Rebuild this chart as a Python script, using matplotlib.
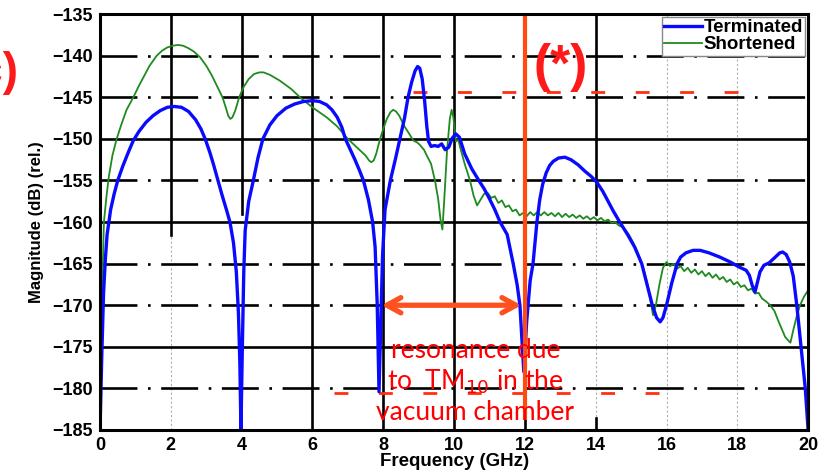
import matplotlib
matplotlib.use("Agg")
import matplotlib.pyplot as plt

plt.rcParams['font.family'] = ['Liberation Sans', 'DejaVu Sans']

# Measured transfer magnitude, terminated line: (frequency GHz, dB)
terminated = [
    (0.00, -185.0), (0.05, -176.0), (0.10, -168.5), (0.15, -164.5), (0.20, -161.5),
    (0.30, -158.5), (0.40, -156.6), (0.50, -155.0), (0.65, -153.2), (0.80, -151.6),
    (0.94, -150.2), (1.10, -149.1), (1.30, -148.0), (1.50, -147.2), (1.70, -146.6),
    (1.90, -146.2), (2.10, -146.1), (2.30, -146.2), (2.50, -146.7), (2.70, -147.7),
    (2.85, -148.8), (2.97, -150.0), (3.10, -151.6), (3.20, -153.0), (3.33, -155.0),
    (3.45, -156.8), (3.57, -158.5), (3.67, -160.0), (3.77, -162.5), (3.85, -166.0),
    (3.91, -171.0), (3.95, -177.0), (3.98, -185.0), (4.02, -175.0), (4.06, -166.0),
    (4.10, -161.0), (4.20, -157.5), (4.33, -155.0), (4.46, -152.3), (4.60, -150.0),
    (4.80, -148.3), (5.00, -147.2), (5.25, -146.3), (5.50, -145.8), (5.75, -145.5),
    (6.00, -145.4), (6.20, -145.5), (6.40, -145.9), (6.55, -146.5), (6.70, -147.4),
    (6.83, -148.6), (6.93, -150.0), (7.07, -151.3), (7.20, -152.5), (7.32, -153.7),
    (7.44, -155.0), (7.58, -157.3), (7.70, -160.0), (7.77, -163.0), (7.83, -170.0),
    (7.88, -180.4), (7.93, -172.0), (7.98, -164.0), (8.05, -158.5), (8.20, -155.0),
    (8.35, -152.3), (8.47, -150.0), (8.60, -147.5), (8.70, -145.0), (8.80, -143.2),
    (8.90, -141.8), (8.97, -141.3), (9.03, -141.5), (9.10, -142.8), (9.17, -145.5),
    (9.23, -148.5), (9.28, -150.3), (9.35, -150.9), (9.45, -150.8), (9.55, -150.9),
    (9.65, -150.6), (9.75, -151.3), (9.85, -151.0), (9.95, -149.9), (10.05, -149.4),
    (10.15, -149.8), (10.30, -151.8), (10.50, -153.6), (10.70, -155.0), (10.85, -156.0),
    (11.00, -157.2), (11.15, -158.5), (11.30, -160.0), (11.50, -161.5), (11.67, -165.0),
    (11.78, -167.5), (11.86, -170.0), (11.97, -178.0), (12.05, -172.0), (12.15, -167.0),
    (12.23, -165.0), (12.34, -160.0), (12.42, -157.3), (12.50, -155.5), (12.60, -154.1),
    (12.70, -153.2), (12.80, -152.7), (12.95, -152.3), (13.13, -152.2), (13.30, -152.5),
    (13.50, -153.1), (13.70, -153.9), (13.87, -154.5), (14.03, -155.2), (14.20, -156.3),
    (14.35, -157.5), (14.50, -158.7), (14.68, -160.0), (14.90, -161.5), (15.10, -163.0),
    (15.30, -165.0), (15.45, -167.5), (15.60, -170.0), (15.72, -171.5), (15.82, -172.0),
    (15.90, -171.5), (16.00, -170.0), (16.15, -167.3), (16.30, -165.0), (16.40, -164.2),
    (16.55, -163.7), (16.75, -163.4), (16.95, -163.4), (17.20, -163.7), (17.50, -164.2),
    (17.80, -164.8), (18.05, -165.4), (18.25, -165.8), (18.34, -166.4), (18.42, -167.6),
    (18.50, -168.4), (18.57, -167.2), (18.64, -166.0), (18.75, -165.2), (18.90, -164.9),
    (19.05, -164.3), (19.20, -163.7), (19.28, -163.6), (19.38, -163.9), (19.48, -164.8),
    (19.58, -166.5), (19.68, -170.0), (19.80, -175.0), (19.92, -180.0), (20.00, -185.0),
]

# Measured transfer magnitude, shortened line: (frequency GHz, dB)
shortened = [
    (0.00, -185.0), (0.05, -170.0), (0.11, -160.0), (0.18, -157.0), (0.25, -154.5),
    (0.35, -152.0), (0.47, -150.0), (0.60, -148.3), (0.75, -146.5), (0.94, -145.0),
    (1.10, -143.6), (1.25, -142.4), (1.40, -141.2), (1.60, -140.0), (1.75, -139.4),
    (1.90, -139.0), (2.05, -138.8), (2.20, -138.7), (2.35, -138.8), (2.50, -139.1),
    (2.65, -139.5), (2.83, -140.2), (3.00, -141.2), (3.15, -142.3), (3.30, -143.6),
    (3.46, -145.0), (3.55, -146.2), (3.62, -147.2), (3.68, -147.6), (3.74, -147.4),
    (3.82, -146.6), (3.93, -145.0), (4.05, -143.8), (4.20, -142.8), (4.35, -142.2),
    (4.50, -142.0), (4.62, -142.0), (4.80, -142.3), (5.08, -143.0), (5.40, -144.0),
    (5.70, -145.2), (6.03, -146.3), (6.40, -147.4), (6.70, -148.5), (7.00, -150.0),
    (7.30, -151.2), (7.50, -152.0), (7.60, -152.6), (7.66, -152.8), (7.73, -152.6),
    (7.80, -151.8), (7.91, -150.0), (8.00, -148.8), (8.10, -147.6), (8.20, -146.8),
    (8.28, -146.5), (8.36, -146.7), (8.45, -147.2), (8.60, -148.5), (8.75, -149.5),
    (8.85, -150.2), (8.95, -150.4), (9.03, -150.7), (9.15, -151.3), (9.23, -152.0),
    (9.35, -153.0), (9.46, -155.0), (9.55, -157.2), (9.62, -159.8), (9.67, -160.9),
    (9.72, -157.5), (9.80, -151.5), (9.88, -147.6), (9.93, -146.5), (9.98, -147.4),
    (10.05, -150.3), (10.12, -150.1), (10.17, -151.0), (10.30, -153.0), (10.45, -155.0),
    (10.55, -156.8), (10.65, -158.0), (10.75, -157.3), (10.85, -156.6), (10.95, -156.5),
    (11.05, -157.1), (11.15, -156.9), (11.25, -157.7), (11.35, -157.4), (11.45, -158.2),
    (11.55, -158.0), (11.65, -158.7), (11.75, -158.5), (11.85, -159.2), (11.95, -158.9),
    (12.05, -159.3), (12.15, -158.8), (12.25, -159.2), (12.35, -158.8), (12.45, -159.2),
    (12.55, -158.8), (12.65, -159.2), (12.75, -158.9), (12.85, -159.3), (12.95, -158.9),
    (13.05, -159.4), (13.15, -159.0), (13.25, -159.4), (13.35, -159.1), (13.45, -159.5),
    (13.55, -159.2), (13.65, -159.6), (13.75, -159.3), (13.85, -159.7), (13.95, -159.4),
    (14.05, -159.8), (14.15, -159.5), (14.25, -159.9), (14.35, -159.7), (14.45, -160.1),
    (14.55, -160.0), (14.65, -160.4), (14.75, -160.6), (14.85, -161.0), (14.95, -161.6),
    (15.05, -162.4), (15.15, -163.3), (15.25, -164.4), (15.35, -165.6), (15.45, -167.3),
    (15.55, -169.5), (15.62, -171.2), (15.70, -170.0), (15.80, -167.5), (15.90, -165.5),
    (16.00, -164.8), (16.10, -165.3), (16.20, -165.0), (16.30, -165.6), (16.40, -165.3),
    (16.50, -165.9), (16.60, -165.5), (16.70, -166.1), (16.80, -165.7), (16.90, -166.3),
    (17.00, -165.9), (17.10, -166.5), (17.20, -166.1), (17.30, -166.7), (17.40, -166.3),
    (17.50, -166.9), (17.60, -166.6), (17.70, -167.2), (17.80, -166.9), (17.90, -167.5),
    (18.00, -167.2), (18.10, -167.8), (18.20, -167.6), (18.30, -168.2), (18.40, -168.0),
    (18.50, -168.6), (18.60, -168.5), (18.70, -169.2), (18.80, -169.5), (18.93, -170.0),
    (19.05, -170.7), (19.15, -171.8), (19.25, -172.8), (19.35, -173.8), (19.43, -174.2),
    (19.50, -174.5), (19.58, -173.0), (19.68, -171.3), (19.77, -170.0), (19.88, -169.0),
    (20.00, -168.2),
]

x_ticks = [0, 2, 4, 6, 8, 10, 12, 14, 16, 18, 20]
y_ticks = [-185, -180, -175, -170, -165, -160, -155, -150, -145, -140, -135]
solid_rows = [-150, -160, -175]
dashed_rows = [-140, -145, -155, -165, -170, -180]

resonance_span = (7.95, 11.9)
resonance_level = -170
marker_freq = 12

term_f, term_db = zip(*terminated)
short_f, short_db = zip(*shortened)

fig = plt.figure(figsize=(8.37, 4.72), dpi=100)
ax = fig.add_axes([0.1195, 0.089, 0.846, 0.881])
ax.set_xlim(0, 20)
ax.set_ylim(-185, -135)

# Background grid: thin grey dotted verticals, heavy black rows and columns
for xv in [2, 14, 16, 18]:
    ax.axvline(xv, color='#b0b0b0', lw=0.8, ls=(0, (2, 2)), zorder=0.5)
for yv in solid_rows:
    ax.axhline(yv, color='black', lw=1.9, zorder=1)
for yv in dashed_rows:
    ax.axhline(yv, color='black', lw=1.9, ls=(0, (14, 4, 1, 4)), zorder=1)
ax.axvline(2, ymin=0.47, ymax=1, color='black', lw=1.9, zorder=1)
ax.axvline(4, ymin=0.52, ymax=1, color='black', lw=1.9, zorder=1)
for xv in [6, 8, 10, 12]:
    ax.axvline(xv, color='black', lw=1.9, zorder=1)
ax.axvline(14, ymin=0.52, ymax=1, color='black', lw=1.9, zorder=1)
ax.axvline(14, ymin=0.0, ymax=0.03, color='black', lw=1.9, zorder=1)

# Red dashed guide rows
ax.plot([8.85, 18.3], [-144.3, -144.3], color='#ff3010', lw=2.0,
        ls=(0, (5, 11)), zorder=2)
ax.plot([6.6, 15.8], [-180.5, -180.5], color='#ff3010', lw=2.0,
        ls=(0, (5, 11)), zorder=2)

ax.plot(short_f, short_db, color='#1f8a1f', lw=1.3, label='Shortened', zorder=3,
        solid_joinstyle='round')
ax.plot(term_f, term_db, color='#0a0aff', lw=2.4, label='Terminated', zorder=4,
        solid_joinstyle='round')

# Marker line and resonance span
ax.plot([marker_freq, marker_freq], [-183.8, -135], color='#ff4a10', lw=3.0,
        zorder=5, solid_capstyle='butt')
ax.annotate('', xy=(resonance_span[0], resonance_level),
            xytext=(resonance_span[1], resonance_level),
            arrowprops=dict(arrowstyle='<->,head_length=1.0,head_width=0.55',
                            color='#ff5020', lw=3.8, shrinkA=0, shrinkB=0),
            zorder=6)

ax.text(10.6, -179.2, 'resonance due\nto  TM$_{10}$ in the\nvacuum chamber',
        ha='center', va='center', color='#ff0000', fontsize=19,
        family='Lato', linespacing=1.2, zorder=7)
ax.text(13.0, -141.4, '(*)', ha='center', va='center', color='#ff1a1a',
        fontsize=37, fontweight='bold', zorder=7)
fig.text(19 / 837, 1 - 73 / 472, '(c)', ha='right', va='center',
         color='#ff1a1a', fontsize=33, fontweight='bold')

handles, labels = ax.get_legend_handles_labels()
leg = ax.legend(handles[::-1], labels[::-1], loc='upper right',
                prop=dict(weight='bold', size=13.5), frameon=True, fancybox=False,
                edgecolor='#888888', framealpha=1, borderpad=0.12,
                handlelength=2.0, handletextpad=0.1, labelspacing=0.0,
                borderaxespad=0.15)
leg.get_frame().set_linewidth(1.0)
leg.set_zorder(10)

ax.set_xticks(x_ticks)
ax.set_yticks(y_ticks)
ax.tick_params(length=0, pad=5, labelsize=13)
for lab in ax.get_xticklabels() + ax.get_yticklabels():
    lab.set_fontweight('bold')
for sp in ax.spines.values():
    sp.set_linewidth(2.2)
    sp.set_zorder(8)

ax.set_xlabel('Frequency (GHz)', fontsize=13.5, fontweight='bold', labelpad=-1)
ax.set_ylabel('Magnitude (dB) (rel.)', fontsize=12, fontweight='bold', labelpad=6)

fig.savefig('out.png', dpi=100)
